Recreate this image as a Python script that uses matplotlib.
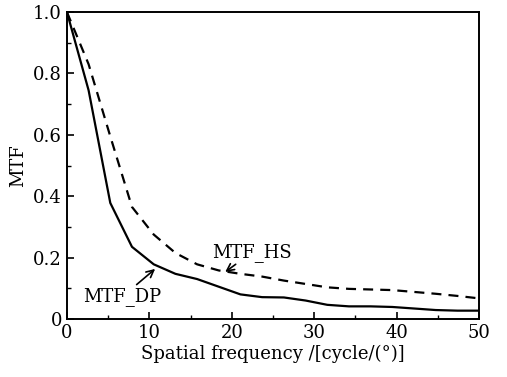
import numpy as np
import matplotlib.pyplot as plt
from matplotlib.ticker import MultipleLocator, FuncFormatter

# spatial frequency samples (cycle/deg)
freq = [0, 2.63, 5.26, 7.89, 10.53, 13.16, 15.79, 18.42, 21.05, 23.68,
        26.32, 28.95, 31.58, 34.21, 36.84, 39.47, 42.11, 44.74, 47.37, 50]
mtf_dp = [1.0, 0.745, 0.378, 0.235, 0.178, 0.147, 0.130, 0.105, 0.080, 0.071,
          0.070, 0.060, 0.046, 0.041, 0.041, 0.039, 0.034, 0.029, 0.027, 0.027]
mtf_hs = [1.0, 0.83, 0.595, 0.365, 0.275, 0.215, 0.178, 0.158, 0.147, 0.138,
          0.125, 0.114, 0.103, 0.098, 0.096, 0.094, 0.088, 0.082, 0.075, 0.067]

plt.rcParams["font.family"] = ["DejaVu Serif"]
plt.rcParams["mathtext.fontset"] = "dejavuserif"

fig = plt.figure(figsize=(5.07, 3.77), dpi=100)
ax = fig.add_axes([0.132, 0.154, 0.813, 0.814])

ax.plot(freq, mtf_dp, color="black", lw=1.6)
ax.plot(freq, mtf_hs, color="black", lw=1.6, ls=(0, (4.5, 3.2)))

ax.set_xlim(0, 50)
ax.set_ylim(0, 1.0)
ax.xaxis.set_major_locator(MultipleLocator(10))
ax.xaxis.set_minor_locator(MultipleLocator(5))
ax.yaxis.set_major_locator(MultipleLocator(0.2))
ax.yaxis.set_minor_locator(MultipleLocator(0.1))
ax.yaxis.set_major_formatter(FuncFormatter(lambda v, p: "0" if abs(v) < 1e-9 else f"{v:.1f}"))
ax.tick_params(which="both", direction="in", top=False, right=False, labelsize=13)
ax.tick_params(which="major", length=5, width=1.2)
ax.tick_params(which="minor", length=3, width=1.0)
for s in ax.spines.values():
    s.set_linewidth(1.4)

ax.set_xlabel("Spatial frequency /[cycle/(°)]", fontsize=13, labelpad=2)
ax.set_ylabel("MTF", fontsize=13, labelpad=4)

arrow = dict(arrowstyle="->", color="black", lw=1.2, shrinkA=0, shrinkB=0)
ax.annotate("MTF_DP", xy=(10.7, 0.163), xytext=(6.7, 0.072),
            ha="center", va="center", fontsize=13, arrowprops=arrow)
ax.annotate("MTF_HS", xy=(19.2, 0.153), xytext=(22.5, 0.218),
            ha="center", va="center", fontsize=13, arrowprops=arrow)

fig.savefig("out.png", dpi=100)
